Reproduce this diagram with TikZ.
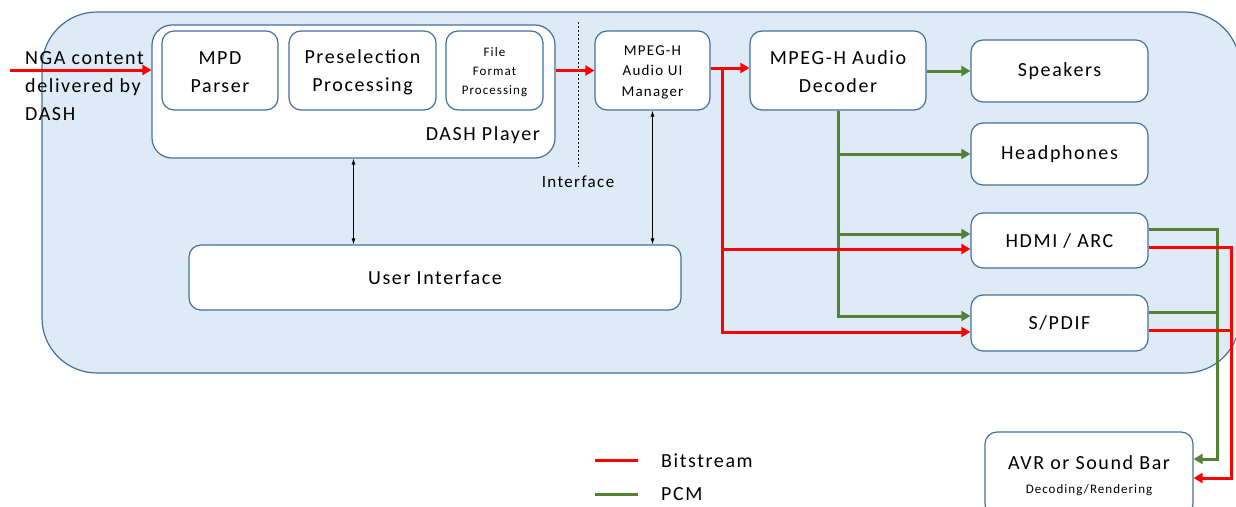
\documentclass[tikz,border=0pt]{standalone}
\usepackage{fontspec}
\setmainfont{Carlito}[LetterSpace=8]
\usetikzlibrary{arrows.meta}
\definecolor{cfill}{HTML}{DEEBF7}
\definecolor{cline}{HTML}{41719C}
\definecolor{bred}{HTML}{FF0000}
\definecolor{pgreen}{HTML}{548235}
\begin{document}
\begin{tikzpicture}[x=1pt,y=-1pt,
 box/.style={draw=cline, line width=1.2pt, fill=white, rounded corners=12pt, align=center, inner sep=0pt, font=\fontsize{20}{28}\selectfont},
 bs/.style={bred, line width=3pt, -{Triangle[length=9pt,width=10pt]}},
 pcm/.style={pgreen, line width=3pt, -{Triangle[length=9pt,width=10pt]}},
 bsline/.style={bred, line width=3pt},
 pcmline/.style={pgreen, line width=3pt},
 ctl/.style={black, line width=0.8pt, {Latex[length=6pt,width=4pt]}-{Latex[length=6pt,width=4pt]}},
 lbl/.style={inner sep=0pt, font=\fontsize{20}{28}\selectfont},
]
\useasboundingbox (0,0) rectangle (1236,506);
% container
\draw[draw=cline, line width=1.2pt, fill=cfill, rounded corners=55pt] (42,12) rectangle (1240,373);

% DASH player
\node[box, minimum width=403pt, minimum height=133pt, rounded corners=20pt] (dash) at (353.5,91.5) {};
\node[box, minimum width=116pt, minimum height=79pt] (mpd) at (220,70.5) {\rule{0pt}{17pt}MPD\\Parser};
\node[box, minimum width=147pt, minimum height=79pt] (pre) at (362.5,70.5) {\rule{0pt}{17pt}Preselection\\Processing};
\node[box, minimum width=97pt, minimum height=79pt, font=\fontsize{13}{19}\selectfont] (ffp) at (494.5,70.5) {\rule{0pt}{12pt}File\\Format\\Processing};
\node[lbl, anchor=east] (dashlbl) at (540,135) {DASH Player};

% interface
\draw[dashed, dash pattern=on 2pt off 2pt, line width=0.8pt] (578,22) -- (578,167);
\node[inner sep=0pt, font=\fontsize{17}{20}\selectfont] (iflbl) at (578,182) {Interface};

\node[box, minimum width=115pt, minimum height=79pt, font=\fontsize{15}{20.5}\selectfont] (uim) at (652.5,70.5) {\rule{0pt}{13pt}MPEG-H\\Audio UI\\Manager};
\node[box, minimum width=176pt, minimum height=79pt] (dec) at (838,70.5) {\rule{0pt}{17pt}MPEG-H Audio\\Decoder};
\node[box, minimum width=177pt, minimum height=62pt] (spk) at (1059.5,71) {Speakers};
\node[box, minimum width=177pt, minimum height=62pt] (hp) at (1059.5,154) {Headphones};
\node[box, minimum width=177pt, minimum height=55pt] (hdmi) at (1059.5,240.5) {HDMI / ARC};
\node[box, minimum width=177pt, minimum height=56pt] (spdif) at (1059.5,323) {S/PDIF};
\node[box, minimum width=492pt, minimum height=65pt] (ui) at (435,277.5) {User Interface};
\node[box, minimum width=208pt, minimum height=84pt] (avr) at (1089,474) {\rule{0pt}{17pt}AVR or Sound Bar\\[-4pt]{\fontsize{13}{16}\selectfont Decoding/Rendering}};

% NGA text
\node[lbl, anchor=north west, align=left] (nga) at (25,51) {NGA content\\delivered by\\DASH};

% coordinates
\coordinate (in) at (10,70);
\coordinate (rj) at (722,68);
\coordinate (gbus) at (1217,0);
\coordinate (rbus) at (1231,0);
\coordinate (hdmigi) at ([yshift=6.5pt]hdmi.west);
\coordinate (hdmiri) at ([yshift=-8.5pt]hdmi.west);
\coordinate (spdifgi) at ([yshift=7pt]spdif.west);
\coordinate (spdifri) at ([yshift=-9pt]spdif.west);
\coordinate (hdmigo) at ([yshift=11.5pt]hdmi.east);
\coordinate (hdmiro) at ([yshift=-6.5pt]hdmi.east);
\coordinate (spdifgo) at ([yshift=11pt]spdif.east);
\coordinate (spdifro) at ([yshift=-7pt]spdif.east);
\coordinate (avrg) at ([yshift=15pt]avr.east);
\coordinate (avrr) at ([yshift=-4pt]avr.east);

% control arrows
\draw[ctl] (dash.south) -- (dash.south |- ui.north);
\draw[ctl] (uim.south) -- (uim.south |- ui.north);

% PCM
\draw[pcm] (dec.east |- spk.west) -- (spk.west);
\draw[pcm] (dec.south) |- (spdifgi);
\draw[pcm] (dec.south |- hp.west) -- (hp.west);
\draw[pcm] (dec.south |- hdmigi) -- (hdmigi);
\draw[pcm] (hdmigo) -| (gbus |- avrg) -- (avrg);
\draw[pcmline] (spdifgo) -- (spdifgo -| gbus);

% Bitstream
\draw[bs] (in) -- (in -| dash.west);
\draw[bs] (dash.east |- uim.west) -- (uim.west);
\draw[bs] (uim.east |- rj) -- (dec.west |- rj);
\draw[bs] (rj) |- (spdifri);
\draw[bs] (rj |- hdmiri) -- (hdmiri);
\draw[bs] (hdmiro) -| (rbus |- avrr) -- (avrr);
\draw[bsline] (spdifro) -- (spdifro -| rbus);

% legend
\coordinate (lg1a) at (595,460);
\coordinate (lg1b) at (638,460);
\coordinate (lg2a) at (595,494);
\coordinate (lg2b) at (638,494);
\draw[bsline] (lg1a) -- (lg1b);
\draw[pcmline] (lg2a) -- (lg2b);
\node[lbl, anchor=west] (lgbs) at (661,461) {Bitstream};
\node[lbl, anchor=west] (lgpcm) at (661,494) {PCM};
\end{tikzpicture}
\end{document}
